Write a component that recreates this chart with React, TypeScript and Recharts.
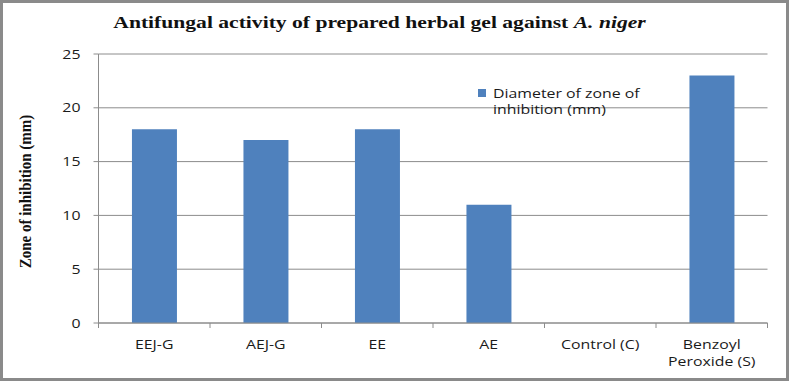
import React from 'react';
import { BarChart, Bar, XAxis, YAxis, CartesianGrid, Legend, Text } from 'recharts';

const categories = ['EEJ-G', 'AEJ-G', 'EE', 'AE', 'Control (C)', 'Benzoyl Peroxide (S)'];
const zoneValues = [18, 17, 18, 11, 0, 23];
const yTicks = [0, 5, 10, 15, 20, 25];
const seriesName = 'Diameter of zone of inhibition (mm)';
const titleMain = 'Antifungal activity of prepared herbal gel against ';
const titleItalic = 'A. niger';
const yLabel = 'Zone of inhibition (mm)';

const data = categories.map((c, i) => ({ name: c, value: zoneValues[i] }));

const W = 789;
const H = 381;
const PLOT_LEFT = 98.5;
const PLOT_RIGHT = 767.5;
const CAT_W = (PLOT_RIGHT - PLOT_LEFT) / categories.length;
const GRID = '#8c8c8c';
const TICK_FONT = '"Open Sans", sans-serif';
const SX = 1.22;

const XTick = (props: any) => {
  const { x, y, payload, index } = props;
  return (
    <g>
      <line x1={x - CAT_W / 2} x2={x - CAT_W / 2} y1={y - 8} y2={y - 3} stroke={GRID} />
      {index === categories.length - 1 && (
        <line x1={x + CAT_W / 2} x2={x + CAT_W / 2} y1={y - 8} y2={y - 3} stroke={GRID} />
      )}
      <g transform={`translate(${x},${y + 9}) scale(${SX},1)`}>
        <Text
          x={0}
          y={0}
          width={85}
          textAnchor="middle"
          verticalAnchor="start"
          lineHeight={17}
          fontSize={13}
          fontFamily={TICK_FONT}
          fill="#1a1a1a"
        >
          {payload.value}
        </Text>
      </g>
    </g>
  );
};

const YTick = (props: any) => {
  const { x, y, payload } = props;
  return (
    <text
      x={0}
      y={0}
      dy="0.355em"
      transform={`translate(${x},${y}) scale(${SX},1)`}
      textAnchor="end"
      fontSize={13}
      fontFamily={TICK_FONT}
      fill="#1a1a1a"
    >
      {payload.value}
    </text>
  );
};

const LegendContent = () => (
  <div style={{ display: 'flex', alignItems: 'flex-start', fontFamily: TICK_FONT, fontSize: 13, color: '#1a1a1a', lineHeight: '16px' }}>
    <div style={{ width: 8, height: 8, background: '#4F81BD', marginTop: 4, marginRight: 7, flex: 'none' }} />
    <div style={{ width: 130, transform: `scaleX(${SX})`, transformOrigin: 'left top' }}>{seriesName}</div>
  </div>
);

const YLabel = (props: any) => {
  const vb = props.viewBox || {};
  const cx = 25;
  const cy = vb.y + vb.height / 2 + 3;
  return (
    <text
      x={0}
      y={0}
      transform={`translate(${cx},${cy}) rotate(-90) scale(1,1.18)`}
      textAnchor="middle"
      dominantBaseline="central"
      fontFamily='"Liberation Serif", serif'
      fontWeight="bold"
      fontSize={15}
      fill="#111"
    >
      {yLabel}
    </text>
  );
};

export default function App() {
  return (
    <div
      style={{
        position: 'absolute',
        left: 0,
        top: 0,
        width: W,
        height: H,
        boxSizing: 'border-box',
        border: '3px solid #8a8a8a',
        background: '#fff',
        overflow: 'hidden',
      }}
    >
      <div
        style={{
          position: 'absolute',
          left: 0,
          top: 10,
          width: 753,
          textAlign: 'center',
          fontFamily: '"Liberation Serif", serif',
          fontWeight: 'bold',
          fontSize: 17,
          color: '#111',
          whiteSpace: 'nowrap',
          transform: 'scaleX(1.27)',
          transformOrigin: '376.5px 0',
        }}
      >
        {titleMain}
        <i>{titleItalic}</i>
      </div>
      <div style={{ position: 'absolute', left: -3, top: -3 }}>
        <BarChart
          width={W}
          height={H}
          data={data}
          margin={{ top: 54, right: W - PLOT_RIGHT, bottom: 8, left: 8 }}
          barCategoryGap="30%"
        >
          <CartesianGrid vertical={false} stroke={GRID} />
          <XAxis
            dataKey="name"
            interval={0}
            height={50}
            axisLine={{ stroke: GRID }}
            tickLine={false}
            tick={<XTick />}
          />
          <YAxis
            width={PLOT_LEFT - 8}
            domain={[0, 25]}
            ticks={yTicks}
            interval={0}
            axisLine={{ stroke: GRID }}
            tickLine={{ stroke: GRID }}
            tickSize={5}
            tickMargin={13}
            tick={<YTick />}
            label={<YLabel />}
          />
          <Legend
            layout="vertical"
            align="center"
            verticalAlign="middle"
            content={<LegendContent />}
            wrapperStyle={{ left: 478, top: 85, width: 190, height: 40 }}
          />
          <Bar dataKey="value" name={seriesName} fill="#4F81BD" isAnimationActive={false} />
        </BarChart>
      </div>
    </div>
  );
}
